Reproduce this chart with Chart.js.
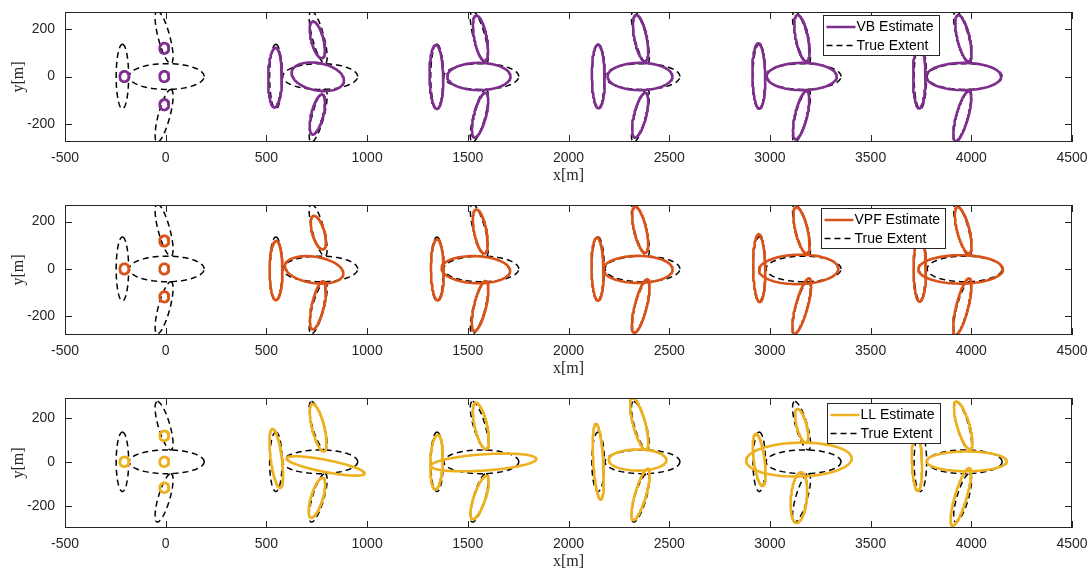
<!DOCTYPE html>
<html>
<head>
<meta charset="utf-8">
<script src="https://cdn.jsdelivr.net/npm/chart.js@4.4.1/dist/chart.umd.min.js"></script>
<style>
	body { margin: 0; background: #fff; width: 1090px; height: 570px; overflow: hidden; position: relative; }
	.panel { position: absolute; left: 0; width: 1090px; height: 185px; }
</style>
</head>
<body>
<div class="panel" style="top:0px"><canvas id="chartVB"></canvas></div>
<div class="panel" style="top:193px"><canvas id="chartVPF"></canvas></div>
<div class="panel" style="top:386px"><canvas id="chartLL"></canvas></div>
<script>
	// ellipse = [centerX, centerY, tipX, tipY, sideX, sideY]  (half diameters, metres)
	const xTicks = [-500, 0, 500, 1000, 1500, 2000, 2500, 3000, 3500, 4000, 4500];
	const yTicks = [-200, 0, 200];

	// true extents : tail, body, upper wing, lower wing for each of 6 time steps
	const trueExtent = [
		[-215, 0, 0, 135, 31, 0], [5, 0, 186, 0, 0, 54], [-8, 164, -33, 110, 30, 0], [-8, -164, 33, 110, 30, 0],
		[547, 0, 0, 135, 31, 0], [767, 0, 186, 0, 0, 54], [757, 164, -33, 110, 30, 0], [757, -164, 33, 110, 30, 0],
		[1347, 0, 0, 135, 31, 0], [1567, 0, 186, 0, 0, 54], [1557, 164, -33, 110, 30, 0], [1557, -164, 33, 110, 30, 0],
		[2147, 0, 0, 135, 31, 0], [2367, 0, 186, 0, 0, 54], [2357, 164, -33, 110, 30, 0], [2357, -164, 33, 110, 30, 0],
		[2947, 0, 0, 135, 31, 0], [3167, 0, 186, 0, 0, 54], [3157, 164, -33, 110, 30, 0], [3157, -164, 33, 110, 30, 0],
		[3747, 0, 0, 135, 31, 0], [3967, 0, 186, 0, 0, 54], [3957, 164, -33, 110, 30, 0], [3957, -164, 33, 110, 30, 0]
	];

	// initial estimate (same for every method)
	const initEstimate = [
		[-205, 0, 0, 22, 23, 0], [-7, 118, 0, 22, 23, 0], [-7, 0, 0, 22, 23, 0], [-7, -118, 0, 22, 23, 0]
	];

	const vbEstimate = [
		[543, -5, 2, 125, 34, 0], [755, -1, 130, -15, 0, 58], [753, 153, -22, 77, 31, 0], [753, -159, 22, 84, 31, 0],
		[1344, -2, -3, 134, 34, 0], [1555, 0, 157, 0, 0, 57], [1563, 160, -21, 95, 31, 0], [1561, -162, 26, 94, 31, 0],
		[2148, 0, -2, 133, 32, 0], [2355, 0, 161, 0, 0, 57], [2358, 160, -22, 97, 31, 0], [2356, -162, 25, 94, 31, 0],
		[2945, 2, -3, 137, 32, 0], [3158, 0, 174, 0, 0, 57], [3159, 160, -22, 97, 31, 0], [3155, -162, 26, 101, 31, 0],
		[3742, 0, 0, 134, 31, 0], [3962, 0, 186, 0, 0, 57], [3961, 160, -26, 97, 31, 0], [3955, -166, 32, 105, 31, 0]
	];

	const vpfEstimate = [
		[548, -7, 0, 125, 32, 0], [737, -4, 145, -15, 0, 56], [758, 153, -22, 71, 31, 0], [756, -154, 25, 102, 31, 0],
		[1349, -4, -2, 129, 32, 0], [1540, -3, 170, -5, 0, 57], [1562, 158, -20, 93, 31, 0], [1561, -157, 27, 106, 31, 0],
		[2144, -1, -3, 133, 30, 0], [2345, -2, 172, 0, 0, 57], [2356, 165, -25, 97, 31, 0], [2359, -157, 31, 113, 31, 0],
		[2947, 3, -3, 143, 30, 0], [3143, -2, 197, 3, 0, 62], [3157, 163, -26, 98, 31, 0], [3158, -157, 35, 117, 31, 0],
		[3744, 0, 0, 138, 31, 0], [3947, -2, 210, 0, 0, 60], [3960, 163, -28, 98, 31, 0], [3955, -160, 33, 120, 31, 0]
	];

	const llEstimate = [
		[549, 15, -19, 134, 28, 0], [794, -19, 194, -34, 0, 28], [757, 155, -28, 108, 31, 0], [751, -164, 27, 91, 31, 0],
		[1345, -2, 5, 124, 31, 0], [1578, -3, 262, 16, 0, 37], [1565, 163, -25, 105, 31, 0], [1559, -163, 33, 99, 31, 0],
		[2148, 0, -12, 172, 25, 0], [2343, 8, 143, 0, 0, 48], [2351, 172, -33, 118, 31, 0], [2358, -149, 35, 117, 29, 0],
		[2947, 8, -17, 118, 27, 0], [3144, 10, 262, 5, 0, 77], [3158, 163, -21, 77, 25, 0], [3144, -163, 10, 115, 40, 0],
		[3730, 2, -5, 135, 25, 0], [3977, 2, 199, 0, 0, 45], [3960, 165, -34, 109, 31, 0], [3948, -160, 40, 131, 31, 0]
	];

	const axisColor = "#262626";

	// outline of one ellipse
	function ellipsePoints(e) {
		let pts = [];
		for (let i = 0; i <= 90; i++) {
			let t = i / 90 * 2 * Math.PI;
			pts.push({
				x: e[0] + e[2] * Math.cos(t) + e[4] * Math.sin(t),
				y: e[1] + e[3] * Math.cos(t) + e[5] * Math.sin(t)
			});
		} // end for
		return pts;
	} // ellipsePoints

	// box + inward ticks like matlab
	const matlabBox = {
		id: "matlabBox",
		afterDatasetsDraw(chart) {
			const ctx = chart.ctx, a = chart.chartArea;
			const sx = chart.scales.x, sy = chart.scales.y;
			ctx.save();
			ctx.strokeStyle = axisColor;
			ctx.lineWidth = 1;
			ctx.beginPath();
			sx.ticks.forEach(function(t) {
				let px = Math.round(sx.getPixelForValue(t.value)) + 0.5;
				ctx.moveTo(px, a.bottom); ctx.lineTo(px, a.bottom - 7);
				ctx.moveTo(px, a.top); ctx.lineTo(px, a.top + 7);
			});
			sy.ticks.forEach(function(t) {
				let py = Math.round(sy.getPixelForValue(t.value)) + 0.5;
				ctx.moveTo(a.left, py); ctx.lineTo(a.left + 7, py);
				ctx.moveTo(a.right, py); ctx.lineTo(a.right - 7, py);
			});
			ctx.stroke();
			ctx.strokeRect(Math.round(a.left) + 0.5, Math.round(a.top) + 0.5, Math.round(a.right - a.left) - 1, Math.round(a.bottom - a.top) - 1);
			ctx.restore();
		}
	};

	// legend box inside the axes
	const legendBox = {
		id: "legendBox",
		afterDraw(chart, args, opts) {
			const ctx = chart.ctx, a = chart.chartArea;
			let x = Math.round(a.left + opts.x) + 0.5, y = Math.round(a.top + opts.y) + 0.5;
			ctx.save();
			ctx.fillStyle = "#fff";
			ctx.fillRect(x, y, opts.w, opts.h);
			ctx.strokeStyle = axisColor;
			ctx.lineWidth = 1;
			ctx.strokeRect(x, y, opts.w, opts.h);
			ctx.font = "14px 'Liberation Sans', Arial, sans-serif";
			ctx.textBaseline = "middle";
			ctx.fillStyle = "#000";
			// estimate row
			ctx.strokeStyle = opts.color;
			ctx.lineWidth = 2.5;
			ctx.beginPath();
			ctx.moveTo(x + 3, y + 11.5); ctx.lineTo(x + 32, y + 11.5);
			ctx.stroke();
			ctx.fillText(opts.label, x + 33, y + 12);
			// true extent row
			ctx.strokeStyle = "#000";
			ctx.lineWidth = 1.5;
			ctx.setLineDash([6, 4]);
			ctx.beginPath();
			ctx.moveTo(x + 3, y + 30); ctx.lineTo(x + 32, y + 30);
			ctx.stroke();
			ctx.setLineDash([]);
			ctx.fillText("True Extent", x + 33, y + 30.5);
			ctx.restore();
		}
	};

	function makePanel(canvasId, estimate, color, label, yMin, yMax, legendPos) {
		let datasets = [];
		initEstimate.concat(estimate).forEach(function(e) {
			datasets.push({
				data: ellipsePoints(e),
				borderColor: color,
				borderWidth: 2.6,
				borderJoinStyle: "round",
				borderCapStyle: "round",
				showLine: true,
				pointRadius: 0,
				fill: false,
				order: 0
			});
		});
		trueExtent.forEach(function(e) {
			datasets.push({
				data: ellipsePoints(e),
				borderColor: "#000",
				borderWidth: 1.5,
				borderDash: [6, 4],
				showLine: true,
				pointRadius: 0,
				fill: false,
				order: 1
			});
		});

		new Chart(document.getElementById(canvasId), {
			type: "scatter",
			data: { datasets: datasets },
			options: {
				responsive: true,
				maintainAspectRatio: false,
				animation: false,
				events: [],
				layout: { padding: { top: 12, right: 18, left: 0, bottom: 0 } },
				plugins: {
					legend: { display: false },
					tooltip: { enabled: false },
					legendBox: Object.assign({ color: color, label: label }, legendPos)
				},
				scales: {
					x: {
						type: "linear",
						min: -500,
						max: 4500,
						afterBuildTicks: function(s) { s.ticks = xTicks.map(function(v) { return { value: v }; }); },
						afterFit: function(s) { s.height = 43; },
						grid: { display: false, drawTicks: true, tickLength: 8 },
						border: { display: false },
						ticks: {
							autoSkip: false,
							maxRotation: 0,
							padding: 0,
							color: axisColor,
							font: { family: "'Liberation Sans', Arial, sans-serif", size: 14 },
							callback: function(v) { return String(v); }
						},
						title: {
							display: true,
							text: "x[m]",
							color: axisColor,
							font: { family: "'Liberation Serif', 'DejaVu Serif', serif", size: 16 },
							padding: { top: 0, bottom: 0 }
						}
					},
					y: {
						type: "linear",
						min: yMin,
						max: yMax,
						afterBuildTicks: function(s) { s.ticks = yTicks.map(function(v) { return { value: v }; }); },
						afterFit: function(s) { s.width = 65; },
						grid: { display: false, drawTicks: true, tickLength: 10 },
						border: { display: false },
						ticks: {
							padding: 0,
							color: axisColor,
							font: { family: "'Liberation Sans', Arial, sans-serif", size: 14 },
							callback: function(v) { return String(v); }
						},
						title: {
							display: true,
							text: "y[m]",
							color: axisColor,
							font: { family: "'Liberation Serif', 'DejaVu Serif', serif", size: 16 },
							padding: { top: 9, bottom: 0 }
						}
					}
				}
			},
			plugins: [matlabBox, legendBox]
		}); // end chart
	} // makePanel

	makePanel("chartVB", vbEstimate, "#7E2F8E", "VB Estimate", -274, 270, { x: 758, y: 3, w: 116, h: 40 });
	makePanel("chartVPF", vpfEstimate, "#D95319", "VPF Estimate", -279, 270, { x: 756, y: 3, w: 124, h: 40 });
	makePanel("chartLL", llEstimate, "#EDB120", "LL Estimate", -301, 290, { x: 762, y: 5, w: 113, h: 40 });
</script>
</body>
</html>
